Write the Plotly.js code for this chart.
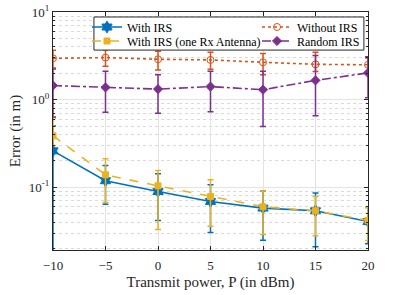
<!DOCTYPE html>
<html><head><meta charset="utf-8">
<script src="https://cdn.plot.ly/plotly-3.0.1.min.js"></script>
<style>html,body{margin:0;padding:0;background:#fff}</style>
</head><body><div id="chart" style="width:407px;height:295px"></div>
<script>
const power = [-10, -5, 0, 5, 10, 15, 20];

const withIRS      = [0.261, 0.119, 0.0896, 0.069, 0.058, 0.054, 0.0407];
const withIRSUpper = [0.50, 0.177, 0.143, 0.107, 0.091, 0.086, 0.059];
const withIRSLower = [0.010, 0.064, 0.042, 0.0305, 0.025, 0.021, 0.0228];

const oneRx      = [0.388, 0.139, 0.104, 0.0785, 0.060, 0.054, 0.042];
const oneRxUpper = [0.62, 0.212, 0.156, 0.122, 0.091, 0.0785, 0.059];
const oneRxLower = [0.30, 0.067, 0.033, 0.036, 0.029, 0.028, 0.0247];

const noIRS      = [2.96, 3.02, 2.89, 2.84, 2.67, 2.53, 2.50];
const noIRSUpper = [3.66, 3.72, 3.57, 3.47, 3.36, 3.47, 2.99];
const noIRSLower = [2.30, 2.40, 2.18, 2.22, 1.92, 2.10, 2.10];

const randIRS      = [1.45, 1.38, 1.32, 1.41, 1.30, 1.66, 2.02];
const randIRSUpper = [2.24, 2.11, 1.93, 2.11, 2.11, 3.20, 3.08];
const randIRSLower = [0.634, 0.72, 0.70, 0.73, 0.495, 0.656, 1.05];

const xTickVals = [-10, -5, 0, 5, 10, 15, 20];
const yTickVals = [0.1, 1, 10];
const yTickText = ['10<sup>-1</sup>', '10<sup>0</sup>', '10<sup>1</sup>'];

const FONT = 'Liberation Serif, Times New Roman, serif';

function errY(v, up, lo, color) {
  return {type: 'data', symmetric: false,
    array: v.map((x, i) => up[i] - x),
    arrayminus: v.map((x, i) => x - lo[i]),
    color: color, thickness: 1.5, width: 3};
}
function trace(name, v, up, lo, color, dash, symbol, size, lg) {
  return {x: power, y: v, name: name, type: 'scatter', mode: 'lines+markers',
    line: {color: color, width: 1.6, dash: dash},
    marker: {symbol: symbol, size: size, color: color, line: {color: color, width: 1}},
    error_y: errY(v, up, lo, color), legend: lg};
}

const minorVals = [];
[0.01, 0.1, 1].forEach(d => { for (let k = 2; k <= 9; k++) minorVals.push(d * k); });

const data = [
  trace('With IRS', withIRS, withIRSUpper, withIRSLower, '#0072BD', 'solid', 'hexagram', 9, 'legend'),
  trace('With IRS (one Rx Antenna)', oneRx, oneRxUpper, oneRxLower, '#EDB120', 'dash', 'square', 6, 'legend3'),
  trace('Without IRS', noIRS, noIRSUpper, noIRSLower, '#D95319', 'dot', 'circle-open', 7, 'legend2'),
  trace('Random IRS', randIRS, randIRSUpper, randIRSLower, '#7E2F8E', 'dashdot', 'diamond', 7, 'legend4')
];

function lg(xpx, ypx) {
  return {orientation: 'v', xref: 'paper', yref: 'paper',
    x: (xpx - 53) / 315, y: (250 - ypx) / 238, xanchor: 'left', yanchor: 'middle',
    bgcolor: 'rgba(255,255,255,0)', borderwidth: 0,
    font: {family: FONT, size: 12, color: '#000'}, itemwidth: 30, tracegroupgap: 0};
}

const layout = {
  width: 407, height: 295,
  margin: {l: 53, r: 39, t: 12, b: 45},
  paper_bgcolor: '#fff', plot_bgcolor: '#fff',
  font: {family: FONT, size: 13, color: '#262626'},
  showlegend: true,
  legend: lg(87, 27), legend3: lg(87, 41),
  legend2: lg(257, 27), legend4: lg(257, 41),
  shapes: [{type: 'rect', xref: 'paper', yref: 'paper', x0: 0.130, x1: 0.987, y0: 0.840, y1: 0.979,
    fillcolor: '#fff', line: {color: '#262626', width: 1}, layer: 'above'}],
  xaxis: {range: [-10, 20], tickvals: xTickVals,
    ticks: 'inside', ticklen: 4, tickcolor: '#262626', mirror: 'allticks',
    showline: true, linecolor: '#262626', linewidth: 1,
    showgrid: true, gridcolor: '#e3e3e3', gridwidth: 1, zeroline: false,
    tickfont: {family: FONT, size: 13, color: '#262626'}, ticklabelstandoff: 3,
    title: {text: 'Transmit power, P (in dBm)', font: {family: FONT, size: 15, color: '#262626'}, standoff: 4}},
  yaxis: {type: 'log', range: [Math.log10(0.0193), 1],
    tickvals: yTickVals, ticktext: yTickText,
    ticks: 'inside', ticklen: 4, tickcolor: '#262626', mirror: 'allticks',
    showline: true, linecolor: '#262626', linewidth: 1,
    showgrid: true, gridcolor: '#e3e3e3', gridwidth: 1, zeroline: false,
    tickfont: {family: FONT, size: 13, color: '#262626'},
    minor: {tickmode: 'array', tickvals: minorVals, ticks: 'inside', ticklen: 2,
      tickcolor: '#262626', showgrid: true, gridcolor: '#dadada', griddash: 'dot', gridwidth: 1},
    title: {text: 'Error (in m)', font: {family: FONT, size: 15, color: '#262626'}, standoff: 4}}
};

Plotly.newPlot('chart', data, layout, {displayModeBar: false, staticPlot: true});
</script></body></html>
